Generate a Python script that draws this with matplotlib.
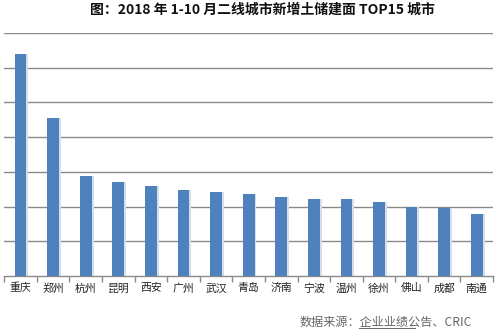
import matplotlib.pyplot as plt
import numpy as np
from matplotlib.lines import Line2D

plt.rcParams['font.family'] = ['Noto Sans CJK SC', 'DejaVu Sans']

# ==========================================================
# Data
# ==========================================================

cities = ["重庆", "郑州", "杭州", "昆明", "西安", "广州", "武汉", "青岛",
          "济南", "宁波", "温州", "徐州", "佛山", "成都", "南通"]
area = [640, 455, 288, 271, 259, 248, 242, 236, 228, 222, 222, 213, 199, 196, 179]

title = "图：2018 年 1-10 月二线城市新增土储建面 TOP15 城市"
source = "数据来源：企业业绩公告、CRIC"

# ==========================================================
# Plot
# ==========================================================

fig = plt.figure(figsize=(5.01, 3.32), dpi=100)
fig.patch.set_facecolor("white")
ax = fig.add_axes([0.0086, 0.1687, 0.9754, 0.7319])

x = np.arange(len(cities))
bar_w = 0.36

# soft shadow on the right side of each bar
ax.bar(x + 0.06, area, width=bar_w, color="#d5dfea", zorder=2)
ax.bar(x, area, width=bar_w, color="#4f81bd", zorder=3)

ax.set_xlim(-0.5, len(cities) - 0.5)
ax.set_ylim(0, 700)
ax.set_yticks(np.arange(100, 701, 100))
ax.yaxis.grid(True, color="#8a8a8a", lw=1.0, zorder=1)
ax.tick_params(axis="y", left=False, labelleft=False)

for s in ["left", "top", "right"]:
    ax.spines[s].set_visible(False)
ax.spines["bottom"].set_color("#8a8a8a")
ax.spines["bottom"].set_linewidth(1.0)

# category boundaries as ticks, names in the middle
ax.set_xticks(np.arange(-0.5, len(cities), 1.0))
ax.set_xticklabels([])
ax.tick_params(axis="x", length=4, color="#8a8a8a", width=1.0)
for i, name in enumerate(cities):
    ax.text(i, -21, name, ha="center", va="top", fontsize=7.8, color="#222222")

fig.text(0.523, 0.972, title, ha="center", va="center", fontsize=10,
         fontweight="bold", color="#111111")

fig.text(0.598, 0.03, source, ha="left", va="center", fontsize=8.7, color="#666666")
fig.add_artist(Line2D([359 / 501, 415 / 501], [0.012, 0.012], color="#666666", lw=0.7))

fig.savefig("out.png", dpi=100, facecolor="white")
